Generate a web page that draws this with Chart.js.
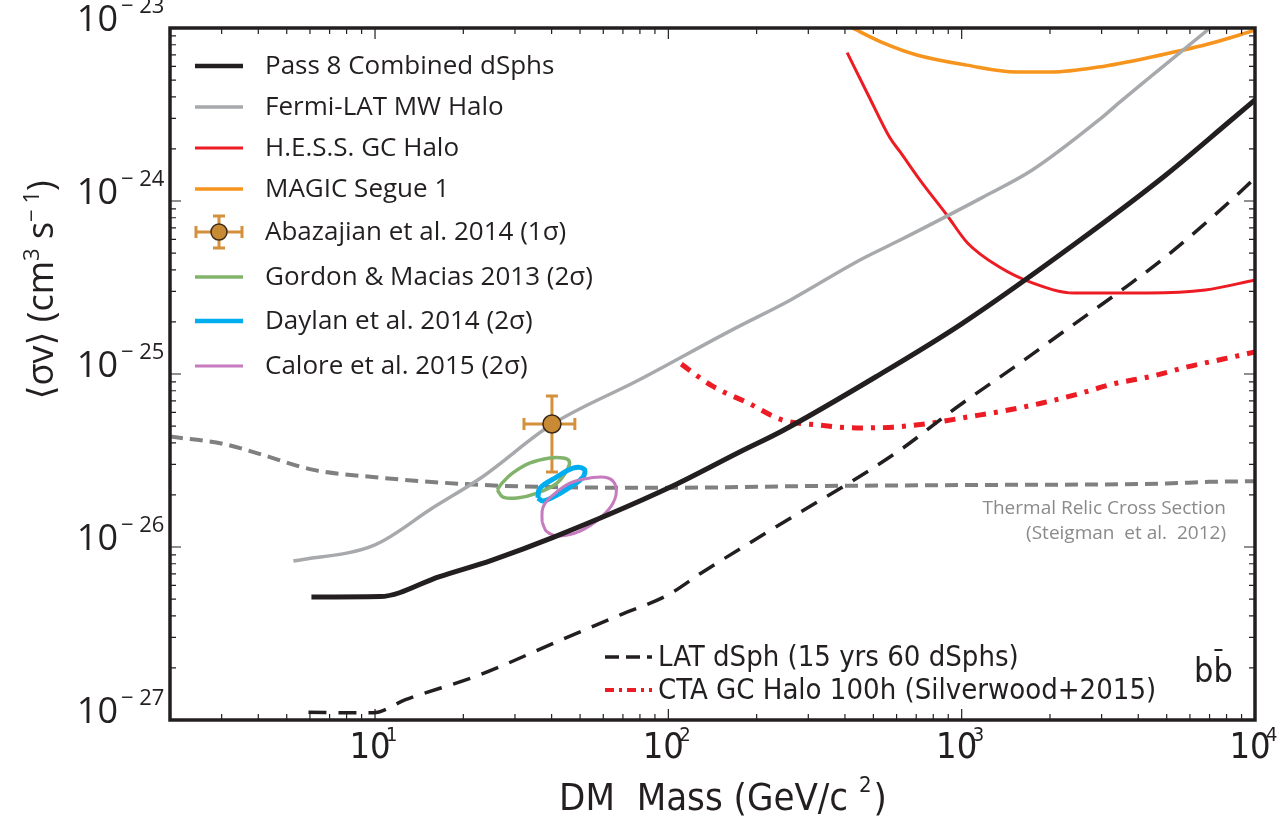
<!DOCTYPE html>
<html>
<head>
<meta charset="utf-8">
<script src="https://cdn.jsdelivr.net/npm/chart.js@4"></script>
<style>
  html, body { margin: 0; padding: 0; background: #fff; }
  #wrap { width: 1281px; height: 817px; }
</style>
</head>
<body>
<div id="wrap"><canvas id="dm-chart" width="1281" height="817"></canvas></div>
<script>
// values (mass in GeV, <sigma v> in cm^3/s)
const pass8Mass = [6.07, 10.4, 16.6, 25.1, 40.7, 100, 175, 245, 515, 1000, 2455, 4955, 8300, 10000];
const pass8Sv = [5.14e-27, 5.17e-27, 6.75e-27, 8.41e-27, 1.14e-26, 2.19e-26, 3.54e-26, 4.7e-26, 9.73e-26, 1.95e-25, 5.72e-25, 1.41e-24, 2.94e-24, 3.84e-24];

const fermiMass = [5.27, 10, 15.7, 23.2, 40, 79, 165, 261, 450, 617, 1178, 1741, 2937, 3435, 7030];
const fermiSv = [8.3e-27, 1.03e-26, 1.68e-26, 2.54e-26, 5.1e-26, 9.2e-26, 1.8e-25, 2.68e-25, 4.56e-25, 5.95e-25, 1.05e-24, 1.51e-24, 2.94e-24, 3.69e-24, 1e-23];

const hessMass = [407, 480, 570, 617, 721, 890, 1047, 1345, 1741, 2416, 4337, 6770, 10000];
const hessSv = [7.2e-24, 4.1e-24, 2.31e-24, 1.92e-24, 1.32e-24, 8.3e-25, 5.72e-25, 4.15e-25, 3.36e-25, 2.94e-25, 2.94e-25, 3.06e-25, 3.49e-25];

const magicMass = [424, 540, 703, 1040, 1535, 2033, 2937, 4440, 6930, 10000];
const magicSv = [1e-23, 8.2e-24, 6.98e-24, 6.1e-24, 5.57e-24, 5.57e-24, 5.95e-24, 6.8e-24, 8.08e-24, 9.7e-24];

const latMass = [5.93, 8.63, 9.85, 12.7, 22.7, 43, 69, 100, 129.5, 223, 603, 955, 1514, 2270, 3625, 4955, 8300, 9690];
const latSv = [1.11e-27, 1.10e-27, 1.10e-27, 1.31e-27, 1.82e-27, 2.9e-27, 4.07e-27, 5.3e-27, 7.08e-27, 1.25e-26, 3.54e-26, 6.36e-26, 1.1e-25, 1.8e-25, 3.18e-25, 4.75e-25, 1.01e-24, 1.29e-24];

const ctaMass = [110.7, 141, 187, 245, 325, 441, 584, 791, 1047, 1387, 1882, 2494, 3277, 4477, 5878, 7793, 10000];
const ctaSv = [1.14e-25, 8.53e-26, 6.8e-26, 5.42e-26, 5.07e-26, 4.88e-26, 4.93e-26, 5.21e-26, 5.64e-26, 6.11e-26, 6.8e-26, 7.66e-26, 8.75e-26, 9.73e-26, 1.1e-25, 1.22e-25, 1.34e-25];

const relicMass = [2, 3.05, 3.95, 6.17, 9.84, 20.3, 40, 100, 300, 1000, 5000, 7000, 10000];
const relicSv = [4.35e-26, 3.94e-26, 3.49e-26, 2.79e-26, 2.54e-26, 2.31e-26, 2.22e-26, 2.2e-26, 2.25e-26, 2.28e-26, 2.33e-26, 2.38e-26, 2.4e-26];

// Abazajian et al. 2014 best fit with 1 sigma bars
const abazMass = [40.1];
const abazSv = [5.14e-26];
const abazMassLo = [32.2];
const abazMassHi = [48];
const abazSvLo = [2.71e-26];
const abazSvHi = [7.46e-26];

// 2 sigma contours, traced around the outline
const gordonMass = [26.1, 27.3, 30.5, 35.7, 41.7, 45.5, 45.9, 43.8, 39.5, 33.8, 29.5, 27.1, 26.1];
const gordonSv = [2.135e-26, 1.945e-26, 1.92e-26, 2.05e-26, 2.34e-26, 2.86e-26, 3.14e-26, 3.27e-26, 3.27e-26, 3.06e-26, 2.68e-26, 2.34e-26, 2.135e-26];

const daylanMass = [35.9, 36.5, 41.7, 47.3, 51.6, 51.2, 46.2, 40.5, 37.4, 35.9];
const daylanSv = [1.92e-26, 2.19e-26, 2.54e-26, 2.86e-26, 2.82e-26, 2.54e-26, 2.22e-26, 1.945e-26, 1.845e-26, 1.92e-26];

const caloreMass = [37.1, 37.4, 40.5, 46.2, 54.1, 62.3, 66.3, 64.8, 58.5, 50.0, 42.7, 38.6, 37.1];
const caloreSv = [1.395e-26, 1.70e-26, 2.0e-26, 2.34e-26, 2.506e-26, 2.506e-26, 2.22e-26, 1.795e-26, 1.47e-26, 1.236e-26, 1.159e-26, 1.222e-26, 1.395e-26];

const xDecades = [1, 2, 3, 4];
const yDecades = [-27, -26, -25, -24, -23];

const INK = "#231f20";
const NARROW = "'Liberation Sans Narrow', 'DejaVu Sans Condensed', sans-serif";
const SANS = "'Open Sans', 'DejaVu Sans', sans-serif";

function pts(xs, ys) {
  return xs.map((x, i) => ({ x: x, y: ys[i] }));
}

function lineSet(label, xs, ys, color, width, extra) {
  return Object.assign({
    label: label,
    data: pts(xs, ys),
    showLine: true,
    borderColor: color,
    backgroundColor: color,
    borderWidth: width,
    pointRadius: 0,
    cubicInterpolationMode: "monotone",
    borderJoinStyle: "round",
    fill: false
  }, extra || {});
}

const loop = { cubicInterpolationMode: "default", tension: 0.4 };

const datasets = [
  lineSet("Abazajian et al. 2014 (1\u03c3)", abazMass, abazSv, "#3b2b1a", 1.5, {
    showLine: false, pointRadius: 9, pointBackgroundColor: "#c98a35", pointBorderColor: "#3b2b1a", pointBorderWidth: 1.5
  }),
  lineSet("Pass 8 Combined dSphs", pass8Mass, pass8Sv, INK, 5),
  lineSet("Calore et al. 2015 (2\u03c3)", caloreMass, caloreSv, "#c57bbd", 3, loop),
  lineSet("Daylan et al. 2014 (2\u03c3)", daylanMass, daylanSv, "#00aeef", 5, loop),
  lineSet("Gordon & Macias 2013 (2\u03c3)", gordonMass, gordonSv, "#82b36b", 3.5, loop),
  lineSet("Fermi-LAT MW Halo", fermiMass, fermiSv, "#a7a9ac", 3.5),
  lineSet("H.E.S.S. GC Halo", hessMass, hessSv, "#ed1c24", 3),
  lineSet("MAGIC Segue 1", magicMass, magicSv, "#f7941d", 3.5),
  lineSet("LAT dSph (15 yrs 60 dSphs)", latMass, latSv, INK, 3.5, { borderDash: [18, 12], borderCapStyle: "butt" }),
  lineSet("CTA GC Halo 100h (Silverwood+2015)", ctaMass, ctaSv, "#ed1c24", 5, { borderDash: [11, 8, 4, 8] }),
  lineSet("Thermal Relic", relicMass, relicSv, "#808080", 4, { borderDash: [13, 7] })
];

function byLabel(chart, prefix) {
  return chart.data.datasets.find((d) => d.label.startsWith(prefix));
}

function drawErrorCross(ctx, cx, cy, left, right, top, bottom, cap) {
  ctx.save();
  ctx.strokeStyle = "#d4903c";
  ctx.lineWidth = 3;
  ctx.beginPath();
  ctx.moveTo(left, cy); ctx.lineTo(right, cy);
  ctx.moveTo(cx, top); ctx.lineTo(cx, bottom);
  ctx.moveTo(left, cy - cap); ctx.lineTo(left, cy + cap);
  ctx.moveTo(right, cy - cap); ctx.lineTo(right, cy + cap);
  ctx.moveTo(cx - cap, top); ctx.lineTo(cx + cap, top);
  ctx.moveTo(cx - cap, bottom); ctx.lineTo(cx + cap, bottom);
  ctx.stroke();
  ctx.restore();
}

const decor = {
  id: "decor",
  beforeDatasetsDraw(chart) {
    const { ctx, scales: { x, y } } = chart;
    for (let i = 0; i < abazMass.length; i++) {
      drawErrorCross(ctx,
        x.getPixelForValue(abazMass[i]), y.getPixelForValue(abazSv[i]),
        x.getPixelForValue(abazMassLo[i]), x.getPixelForValue(abazMassHi[i]),
        y.getPixelForValue(abazSvHi[i]), y.getPixelForValue(abazSvLo[i]), 6);
    }
  },
  afterDraw(chart) {
    const { ctx, chartArea: a, scales: { x, y } } = chart;
    ctx.save();

    // frame
    ctx.strokeStyle = INK;
    ctx.lineWidth = 3.5;
    ctx.strokeRect(a.left, a.top, a.right - a.left, a.bottom - a.top);

    // inward ticks on all four sides
    ctx.lineWidth = 1.2;
    ctx.beginPath();
    for (let e = 0; e <= 4; e++) {
      for (let m = 1; m <= 9; m++) {
        const v = m * Math.pow(10, e);
        if (v < x.min || v > x.max) continue;
        const px = x.getPixelForValue(v);
        const len = m === 1 ? 11 : 6;
        ctx.moveTo(px, a.bottom); ctx.lineTo(px, a.bottom - len);
        ctx.moveTo(px, a.top); ctx.lineTo(px, a.top + len);
      }
    }
    for (let e = -27; e <= -23; e++) {
      for (let m = 1; m <= 9; m++) {
        const v = m * Math.pow(10, e);
        if (v < y.min * 0.999 || v > y.max * 1.001) continue;
        const py = y.getPixelForValue(v);
        const len = m === 1 ? 11 : 6;
        ctx.moveTo(a.left, py); ctx.lineTo(a.left + len, py);
        ctx.moveTo(a.right, py); ctx.lineTo(a.right - len, py);
      }
    }
    ctx.stroke();

    // tick labels
    ctx.fillStyle = INK;
    yDecades.forEach((e) => {
      const py = y.getPixelForValue(Math.pow(10, e));
      ctx.font = "36px " + SANS;
      ctx.textAlign = "right";
      ctx.textBaseline = "middle";
      ctx.fillText("10", 118, py - 7);
      ctx.font = "22px " + SANS;
      ctx.textAlign = "left";
      ctx.fillText("\u2212 " + (-e), 121, py - 21);
    });
    xDecades.forEach((e) => {
      const px = x.getPixelForValue(Math.pow(10, e));
      ctx.font = "36px " + NARROW;
      ctx.textAlign = "center";
      ctx.textBaseline = "middle";
      ctx.fillText("10", px - 5, 749);
      ctx.font = "20px " + NARROW;
      ctx.textAlign = "left";
      ctx.fillText(String(e), px + 11, 736);
    });

    // axis titles
    ctx.font = "38px " + NARROW;
    ctx.textAlign = "left";
    ctx.textBaseline = "alphabetic";
    const xt1 = "DM  Mass (GeV/c ";
    const w1 = ctx.measureText(xt1).width;
    ctx.font = "22px " + NARROW;
    const w2 = ctx.measureText("2").width;
    ctx.font = "38px " + NARROW;
    const w3 = ctx.measureText(")").width;
    let sx = 722 - (w1 + w2 + w3) / 2;
    ctx.fillText(xt1, sx, 810);
    ctx.font = "22px " + NARROW;
    ctx.fillText("2", sx + w1, 792);
    ctx.font = "38px " + NARROW;
    ctx.fillText(")", sx + w1 + w2 + 2, 810);

    ctx.save();
    ctx.translate(53, 290);
    ctx.rotate(-Math.PI / 2);
    const segs = [
      ["\u27e8\u03c3v\u27e9 (cm", 36, 0],
      ["3", 22, -14],
      [" s", 36, 0],
      ["\u2212 1", 22, -14],
      [")", 36, 0]
    ];
    let total = 0;
    segs.forEach((s) => { ctx.font = s[1] + "px " + SANS; total += ctx.measureText(s[0]).width; });
    let tx = -total / 2;
    segs.forEach((s) => {
      ctx.font = s[1] + "px " + SANS;
      ctx.fillText(s[0], tx, s[2]);
      tx += ctx.measureText(s[0]).width;
    });
    ctx.restore();

    // upper-left legend
    const rows = ["Pass 8", "Fermi", "H.E.S.S.", "MAGIC", "Abazajian", "Gordon", "Daylan", "Calore"];
    const rowY = [66, 107, 148, 189, 232, 277, 321, 366];
    ctx.textBaseline = "middle";
    rows.forEach((key, i) => {
      const ds = byLabel(chart, key);
      const ly = rowY[i];
      if (key === "Abazajian") {
        drawErrorCross(ctx, 219, ly, 196, 242, ly - 16, ly + 16, 6);
        ctx.beginPath();
        ctx.arc(219, ly, 8, 0, Math.PI * 2);
        ctx.fillStyle = "#c98a35";
        ctx.fill();
        ctx.lineWidth = 1.5;
        ctx.strokeStyle = "#3b2b1a";
        ctx.stroke();
      } else {
        ctx.strokeStyle = ds.borderColor;
        ctx.lineWidth = Math.min(ds.borderWidth, 4.5);
        ctx.setLineDash([]);
        ctx.beginPath();
        ctx.moveTo(195, ly); ctx.lineTo(243, ly);
        ctx.stroke();
      }
      ctx.fillStyle = INK;
      ctx.font = "26px " + SANS;
      ctx.textAlign = "left";
      ctx.fillText(ds.label, 265, ly + 1);
    });

    // lower legend
    [["LAT dSph", 657], ["CTA", 690]].forEach((r) => {
      const ds = byLabel(chart, r[0]);
      ctx.strokeStyle = ds.borderColor;
      ctx.lineWidth = r[0] === "CTA" ? 4 : 3.5;
      ctx.setLineDash(r[0] === "CTA" ? [9, 5, 3, 5] : [14, 7]);
      ctx.beginPath();
      ctx.moveTo(605, r[1]); ctx.lineTo(652, r[1]);
      ctx.stroke();
      ctx.setLineDash([]);
      ctx.fillStyle = INK;
      ctx.font = "29px " + NARROW;
      ctx.fillText(ds.label, 658, r[1] + 1);
    });

    // thermal relic note
    ctx.fillStyle = "#8a8a8a";
    ctx.font = "19px " + SANS;
    ctx.textAlign = "right";
    ctx.fillText("Thermal Relic Cross Section", 1226, 509);
    ctx.fillText("(Steigman  et al.  2012)", 1226, 534);

    // channel label
    ctx.fillStyle = INK;
    ctx.font = "34px " + NARROW;
    ctx.textAlign = "left";
    ctx.textBaseline = "alphabetic";
    const bw = ctx.measureText("bb").width;
    ctx.fillText("bb", 1194, 682);
    ctx.lineWidth = 2;
    ctx.strokeStyle = INK;
    ctx.beginPath();
    ctx.moveTo(1194 + bw / 2 + 1, 650);
    ctx.lineTo(1194 + bw / 2 + 9, 650);
    ctx.stroke();

    ctx.restore();
  }
};

new Chart(document.getElementById("dm-chart").getContext("2d"), {
  type: "scatter",
  data: { datasets: datasets },
  options: {
    responsive: false,
    animation: false,
    layout: { padding: { left: 170, top: 28, right: 26, bottom: 97 } },
    plugins: { legend: { display: false }, tooltip: { enabled: false } },
    scales: {
      x: { type: "logarithmic", min: 2, max: 10000, display: false },
      y: { type: "logarithmic", min: 1e-27, max: 1e-23, display: false }
    }
  },
  plugins: [decor]
});
</script>
</body>
</html>
